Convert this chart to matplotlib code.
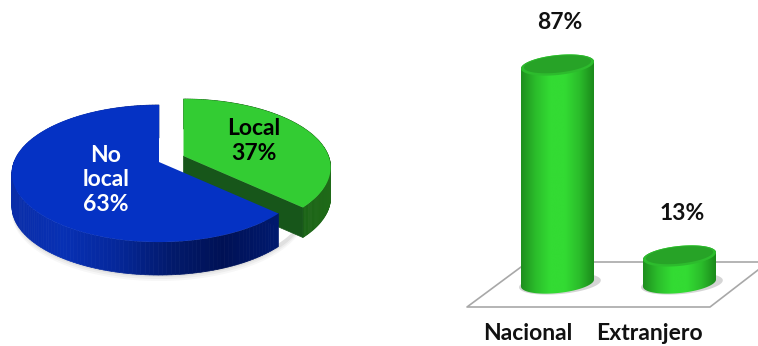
import matplotlib
matplotlib.use("Agg")
import matplotlib.pyplot as plt
import numpy as np
from matplotlib.colors import LinearSegmentedColormap
from matplotlib.patches import Polygon

PIE_LABELS = ["Local", "No\nlocal"]
PIE_VALUES = [37, 63]
BAR_LABELS = ["Nacional", "Extranjero"]
BAR_VALUES = [87, 13]

W, H = 758, 346
PX_PER_UNIT = 2.58
ZERO_Y = 289.5
BAR_BASE = 2.5  # floor sits a little above the value axis zero
FONT_SIZE = 16.5

plt.rcParams["font.family"] = ["Lato", "DejaVu Sans"]
plt.rcParams["font.weight"] = "bold"

BLUE_SIDE = LinearSegmentedColormap.from_list(
    "blue_side", ["#0A2DA8", "#0730B4", "#05279A", "#021A6C", "#001155", "#00196E"]
)
GREEN_SIDE = LinearSegmentedColormap.from_list("green_side", ["#1B6A18", "#175A14", "#1F6A18"])
CYL = LinearSegmentedColormap.from_list(
    "cyl", ["#1E8E1E", "#2BBD2B", "#33DB33", "#33DB33", "#2BBD2B", "#1B8A1B"]
)


def project(theta, cx, cy):
    # tilted disc seen in perspective, theta clockwise from 12 o'clock
    u = np.sin(theta)
    v = -np.cos(theta)
    w = 1 - 0.168 * v
    return cx + 145 * u / w, cy + 66.6 * v / w


def draw_slice(ax, start, stop, cx, cy, cmap, depth):
    thetas = np.linspace(start, stop, 160)
    xs, ys = project(thetas, cx, cy)
    xmin, xmax = xs.min(), xs.max()
    for i in range(len(thetas) - 1):
        color = cmap((xs[i] - xmin) / (xmax - xmin))
        quad = [(xs[i], ys[i]), (xs[i + 1], ys[i + 1]),
                (xs[i + 1], ys[i + 1] + depth), (xs[i], ys[i] + depth)]
        ax.add_patch(Polygon(quad, facecolor=color, edgecolor=color, linewidth=0.5))
    return xs, ys


def draw_pie(ax):
    fracs = np.cumsum([0] + PIE_VALUES) / sum(PIE_VALUES) * 2 * np.pi

    # soft shadow only along the front of the pie
    tx, ty = project(np.linspace(np.pi * 0.55, np.pi * 1.5, 120), 159, 162)
    for grow, alpha in zip([6, 4, 2], [0.03, 0.04, 0.05]):
        band = np.c_[np.r_[tx, tx[::-1]], np.r_[ty + 30, (ty + 33 + grow)[::-1]]]
        ax.add_patch(Polygon(band, facecolor="black", alpha=alpha, linewidth=0))

    # exploded green slice first, blue covers its lower left corner
    gx, gy, green_depth = 183.5, 156, 30
    xs, ys = draw_slice(ax, fracs[0], fracs[1], gx, gy, GREEN_SIDE, green_depth)
    cut = [(gx, gy), (xs[-1], ys[-1]), (xs[-1], ys[-1] + green_depth), (gx, gy + green_depth)]
    ax.add_patch(Polygon(cut, facecolor="#17561A", edgecolor="#17561A", linewidth=0.5))
    ax.add_patch(Polygon(np.c_[np.r_[gx, xs], np.r_[gy, ys]], facecolor="#33CC33", linewidth=0))

    bx, by = 159, 162
    xs, ys = draw_slice(ax, fracs[1], fracs[2], bx, by, BLUE_SIDE, 33)
    ax.add_patch(Polygon(np.c_[np.r_[bx, xs], np.r_[by, ys]], facecolor="#0532C4", linewidth=0))

    ax.text(254, 141, f"{PIE_LABELS[0]}\n{PIE_VALUES[0]}%", color="black", fontsize=FONT_SIZE,
            ha="center", va="center", linespacing=1.2)
    ax.text(106, 180, f"{PIE_LABELS[1]}\n{PIE_VALUES[1]}%", color="white", fontsize=FONT_SIZE,
            ha="center", va="center", linespacing=1.2)


def ellipse_pts(xc, yc, a, b, shear, n=120):
    t = np.linspace(0, 2 * np.pi, n)
    return xc + a * np.cos(t), yc + b * np.sin(t) + shear * np.cos(t)


def draw_floor(ax):
    ax.plot([521, 467, 710, 758], [267, 307, 307, 270], color="#A8A8A8", lw=1.2, zorder=1)
    ax.plot([594, 758], [262, 262], color="#A8A8A8", lw=1.2, zorder=1)


def draw_bars(ax):
    # value axis covers the whole figure, so the y limits come from the pixel scale
    xlim = (-557.5 / 122, (W - 557.5) / 122)
    ylim = ((ZERO_Y - H) / PX_PER_UNIT, ZERO_Y / PX_PER_UNIT)
    half = 36.5 / 122
    b = 10 / PX_PER_UNIT
    shear = 3.5 / PX_PER_UNIT
    gradient = np.linspace(0, 1, 256).reshape(1, -1)
    t = np.linspace(np.pi, 2 * np.pi, 60)
    for i, value in enumerate(BAR_VALUES):
        # shadow on the floor
        sx, sy = ellipse_pts(i + 0.02, BAR_BASE - 0.3, half * 1.12, b * 1.02, shear)
        ax.fill(sx, sy, color="#888888", alpha=0.35, lw=0, zorder=2)

        # body outline: far half of the top, then near half of the base
        top_x = i + half * np.cos(t)
        top_y = value - b * np.sin(t) + shear * np.cos(t)
        low_x = i + half * np.cos(t - np.pi)
        low_y = BAR_BASE - b * np.sin(t - np.pi) + shear * np.cos(t - np.pi)
        body = Polygon(np.c_[np.r_[top_x, low_x], np.r_[top_y, low_y]],
                       facecolor="none", edgecolor="none")
        ax.add_patch(body)
        img = ax.imshow(gradient, cmap=CYL, aspect="auto", zorder=3,
                        extent=(i - half, i + half, BAR_BASE - b * 1.2, value + b * 1.2))
        img.set_clip_path(body)

        ex, ey = ellipse_pts(i, value, half, b, shear)
        ax.fill(ex, ey, color="#2DBB2D", lw=0, zorder=4)
        ex, ey = ellipse_pts(i, value + 0.3, half * 0.92, b * 0.84, shear * 0.92)
        ax.fill(ex, ey, color="#27A327", lw=0, zorder=5)

        ax.text(i + 0.02, value + 16.5, f"{value}%", color="#111111", fontsize=FONT_SIZE,
                ha="center", va="center", zorder=6)

    ax.set_xlim(xlim)
    ax.set_ylim(ylim)
    label_v = (ZERO_Y - 334) / PX_PER_UNIT
    ax.text(-0.24, label_v, BAR_LABELS[0], color="#111111", fontsize=FONT_SIZE, ha="center", va="center")
    ax.text(0.75, label_v, BAR_LABELS[1], color="#111111", fontsize=FONT_SIZE, ha="center", va="center")


def main():
    fig = plt.figure(figsize=(W / 100, H / 100), dpi=100, facecolor="white")
    ax = fig.add_axes([0, 0, 1, 1])
    ax.set_xlim(0, W)
    ax.set_ylim(H, 0)
    ax.axis("off")
    draw_pie(ax)
    draw_floor(ax)

    ax_bar = fig.add_axes([0, 0, 1, 1])
    ax_bar.patch.set_alpha(0)
    ax_bar.axis("off")
    draw_bars(ax_bar)

    fig.savefig("out.png", dpi=100)
    plt.close(fig)


if __name__ == "__main__":
    main()
